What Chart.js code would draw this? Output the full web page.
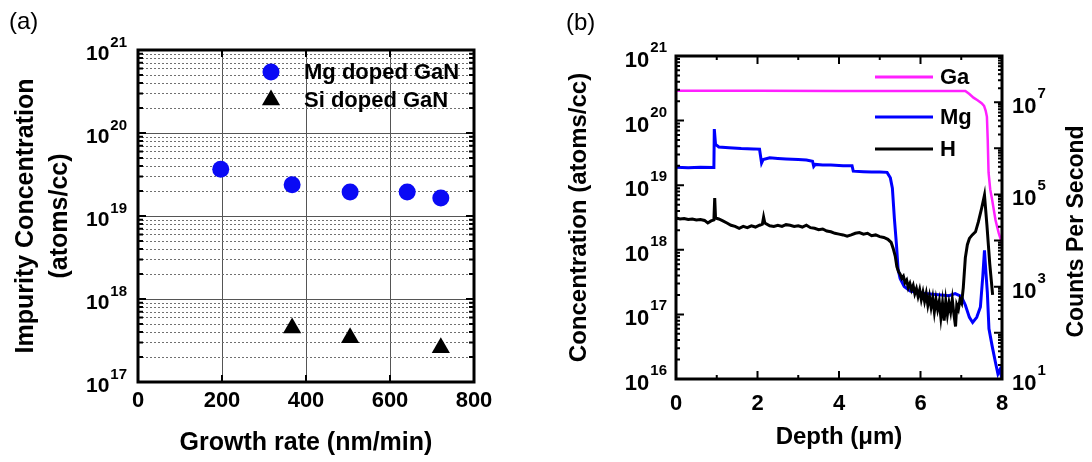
<!DOCTYPE html>
<html>
<head>
<meta charset="utf-8">
<script src="https://cdn.jsdelivr.net/npm/chart.js@4.4.1/dist/chart.umd.min.js"></script>
<style>
  html, body { margin: 0; padding: 0; background: #fff; }
  #wrap { position: relative; width: 1092px; height: 462px; }
  .panel { position: absolute; top: 0; width: 546px; height: 462px; }
  #panelA { left: 0; }
  #panelB { left: 546px; }
</style>
</head>
<body>
<div id="wrap">
  <div class="panel" id="panelA"><canvas id="chartA"></canvas></div>
  <div class="panel" id="panelB"><canvas id="chartB"></canvas></div>
</div>
<script>
const FONT = "'Liberation Sans', Arial, Helvetica, sans-serif";

// ---- panel (a): impurity vs growth rate
const mgRate = [197, 367, 505, 641, 721];
const mgConc = [3.66e19, 2.38e19, 1.95e19, 1.95e19, 1.65e19];
const siRate = [367, 505, 721];
const siConc = [4.47e17, 3.41e17, 2.58e17];
const rateTicks = [0, 200, 400, 600, 800];
const decadesA = [17, 18, 19, 20, 21];

// ---- panel (b): SIMS depth profile
const mgDepth = [0, 0.3, 0.6, 0.93, 0.94, 0.97, 1.05, 1.3, 1.6, 1.9, 2.05, 2.1, 2.14, 2.3, 2.5, 2.7, 3.0, 3.2, 3.35,
  3.38, 3.42, 3.6, 3.8, 4.1, 4.32, 4.35, 4.6, 4.8, 5.0, 5.18, 5.26, 5.31, 5.36, 5.41, 5.45, 5.5, 5.6, 5.75, 5.9,
  6.1, 6.3, 6.5, 6.7, 6.85, 7.0, 7.1, 7.2, 7.28, 7.38, 7.47, 7.53, 7.57, 7.6, 7.64, 7.68, 7.76, 7.84, 7.9, 7.95, 8.0];
const mgProfile = [1.9e19, 1.87e19, 1.9e19, 1.88e19, 7.4e19, 4.3e19, 3.9e19, 3.8e19, 3.7e19, 3.65e19, 3.6e19, 2.2e19, 2.5e19, 2.65e19, 2.6e19, 2.55e19, 2.5e19, 2.45e19, 2.35e19,
  1.95e19, 2.1e19, 2.05e19, 2.05e19, 2.0e19, 2.0e19, 1.65e19, 1.62e19, 1.6e19, 1.6e19, 1.58e19, 1.3e19, 9e18, 3e18, 1.2e18, 5e17, 3.6e17, 2.7e17, 2.3e17, 2.2e17,
  2.1e17, 2.05e17, 2.0e17, 1.95e17, 2.1e17, 1.9e17, 1.4e17, 9e16, 7.5e16, 9e16, 1.3e17, 4e17, 9.8e17, 5e17, 2.2e17, 6e16, 3.2e16, 1.8e16, 1.2e16, 1.4e16, 1.0e16];

const hDepth = [0, 0.1, 0.2, 0.3, 0.4, 0.5, 0.6, 0.7, 0.78, 0.86, 0.93, 0.95, 0.97, 1.05, 1.15, 1.25, 1.35, 1.45, 1.55, 1.65,
  1.75, 1.85, 1.95, 2.05, 2.12, 2.15, 2.18, 2.3, 2.4, 2.5, 2.6, 2.7, 2.8, 2.9, 3.0, 3.1, 3.2, 3.3, 3.4, 3.5,
  3.6, 3.7, 3.8, 3.9, 4.0, 4.1, 4.2, 4.3, 4.4, 4.5, 4.6, 4.7, 4.8, 4.9, 5.0, 5.1, 5.2, 5.28, 5.33, 5.38,
  5.42, 5.46, 5.5, 5.54, 5.58, 5.62, 5.66, 5.7, 5.74, 5.78, 5.82, 5.86, 5.9, 5.94, 5.98, 6.02, 6.06, 6.1, 6.14, 6.18,
  6.22, 6.26, 6.3, 6.34, 6.38, 6.42, 6.46, 6.5, 6.54, 6.58, 6.62, 6.66, 6.7, 6.74, 6.78, 6.82, 6.86, 6.89, 6.93, 6.97,
  7.01, 7.05, 7.1, 7.15, 7.2, 7.27, 7.35, 7.42, 7.5, 7.57, 7.63, 7.7, 7.77];
const hProfile = [3.1e18, 3.0e18, 3.05e18, 2.95e18, 3.0e18, 2.9e18, 2.95e18, 2.85e18, 2.6e18, 2.8e18, 2.9e18, 6.3e18, 3.1e18, 3.0e18, 2.8e18, 2.6e18, 2.4e18, 2.3e18, 2.15e18, 2.3e18,
  2.2e18, 2.35e18, 2.25e18, 2.4e18, 2.5e18, 3.2e18, 2.6e18, 2.35e18, 2.3e18, 2.4e18, 2.3e18, 2.45e18, 2.4e18, 2.3e18, 2.35e18, 2.25e18, 2.4e18, 2.2e18, 2.15e18, 2.05e18,
  2.1e18, 1.95e18, 1.9e18, 1.8e18, 1.75e18, 1.7e18, 1.62e18, 1.7e18, 1.8e18, 1.85e18, 1.75e18, 1.8e18, 1.65e18, 1.7e18, 1.6e18, 1.55e18, 1.45e18, 1.3e18, 1.05e18, 8e17,
  5.5e17, 4.6e17, 4.2e17, 3.6e17, 3.9e17, 3.1e17, 3.4e17, 2.6e17, 3.0e17, 2.4e17, 2.8e17, 2.1e17, 2.5e17, 1.9e17, 2.4e17, 1.7e17, 2.2e17, 1.6e17, 2.1e17, 1.4e17,
  1.9e17, 1.3e17, 1.8e17, 1.1e17, 1.7e17, 1.2e17, 1.6e17, 9e16, 1.5e17, 8e16, 1.6e17, 1.0e17, 1.5e17, 1.1e17, 1.7e17, 1.0e17, 6.5e16, 1.4e17, 1.2e17, 1.7e17,
  1.5e17, 2.6e17, 7.5e17, 1.2e18, 1.5e18, 1.7e18, 1.9e18, 2.7e18, 4.4e18, 7.0e18, 2.4e18, 6.0e17, 2.0e17];

const gaDepth = [0, 2, 4, 6, 7.1, 7.2, 7.3, 7.4, 7.5, 7.56, 7.6, 7.63, 7.65, 7.67, 7.71, 7.76, 7.84, 7.92, 8.0];
const gaCounts = [1.77e7, 1.76e7, 1.75e7, 1.75e7, 1.74e7, 1.5e7, 1.25e7, 1.1e7, 9.5e6, 8.3e6, 6.5e6, 4.8e6, 1.5e6, 3e5, 1.3e5, 7.5e4, 2.8e4, 1.45e4, 8.7e3];

const depthTicks = [0, 2, 4, 6, 8];
const depthMinor = [1, 3, 5, 7];
const decadesB = [16, 17, 18, 19, 20, 21];
const countDecades = [1, 2, 3, 4, 5, 6, 7, 8];
const countLabels = [1, 3, 5, 7];

const pts = (xs, ys) => xs.map((x, i) => ({ x, y: ys[i] }));

function drawPower(ctx, exp, x, y, side, sz) {
  ctx.save();
  ctx.fillStyle = '#000';
  ctx.textBaseline = 'alphabetic';
  ctx.textAlign = 'left';
  const baseFont = `bold ${sz.base}px ${FONT}`;
  const expFont = `bold ${sz.exp}px ${FONT}`;
  ctx.font = expFont;
  const ew = ctx.measureText(String(exp)).width;
  ctx.font = baseFont;
  const bw = ctx.measureText('10').width;
  const x0 = side === 'left' ? x - ew - bw - 1 : x;
  ctx.fillText('10', x0, y + sz.dy);
  ctx.font = expFont;
  ctx.fillText(String(exp), x0 + bw + 1, y + sz.edy);
  ctx.restore();
}

function frame(ctx, a) {
  ctx.save();
  ctx.strokeStyle = '#000';
  ctx.lineWidth = 3;
  ctx.strokeRect(a.left, a.top, a.right - a.left, a.bottom - a.top);
  ctx.restore();
}

// ---------- chart (a)
const panelAPlugin = {
  id: 'panelA',
  beforeDatasetsDraw(chart) {
    const { ctx, chartArea: a, scales: { y } } = chart;
    ctx.save();
    ctx.strokeStyle = '#707070';
    ctx.lineWidth = 1;
    ctx.setLineDash([2, 2]);
    ctx.beginPath();
    decadesA.slice(0, -1).forEach(e => {
      for (let m = 2; m <= 9; m++) {
        const py = Math.round(y.getPixelForValue(m * Math.pow(10, e))) + 0.5;
        ctx.moveTo(a.left, py);
        ctx.lineTo(a.right, py);
      }
    });
    ctx.stroke();
    ctx.restore();
  },
  afterDraw(chart) {
    const { ctx, chartArea: a, scales: { x, y } } = chart;
    frame(ctx, a);
    ctx.save();
    ctx.strokeStyle = '#000';
    ctx.lineWidth = 2;
    ctx.beginPath();
    decadesA.forEach(e => {
      const py = y.getPixelForValue(Math.pow(10, e));
      ctx.moveTo(a.left, py); ctx.lineTo(a.left + 8, py);
      ctx.moveTo(a.right, py); ctx.lineTo(a.right - 8, py);
      if (e < 21) {
        for (let m = 2; m <= 9; m++) {
          const pm = y.getPixelForValue(m * Math.pow(10, e));
          ctx.moveTo(a.left, pm); ctx.lineTo(a.left + 5, pm);
          ctx.moveTo(a.right, pm); ctx.lineTo(a.right - 5, pm);
        }
      }
    });
    rateTicks.slice(1, -1).forEach(v => {
      const px = x.getPixelForValue(v);
      ctx.moveTo(px, a.top); ctx.lineTo(px, a.top + 7);
      ctx.moveTo(px, a.bottom); ctx.lineTo(px, a.bottom - 7);
    });
    ctx.stroke();
    ctx.restore();

    decadesA.forEach(e => drawPower(ctx, e, a.left - 11, y.getPixelForValue(Math.pow(10, e)), 'left',
      { base: 21, exp: 15, dy: 10, edy: -3 }));

    // legend
    ctx.save();
    const lx = a.left + 133;
    const ly1 = a.top + 22, ly2 = a.top + 50;
    ctx.fillStyle = chart.data.datasets[0].backgroundColor;
    ctx.beginPath();
    ctx.arc(lx, ly1, 8.5, 0, Math.PI * 2);
    ctx.fill();
    ctx.fillStyle = chart.data.datasets[1].backgroundColor;
    const r = 10.5;
    ctx.beginPath();
    ctx.moveTo(lx, ly2 - r);
    ctx.lineTo(lx + r * Math.sin(2 * Math.PI / 3), ly2 + r / 2);
    ctx.lineTo(lx - r * Math.sin(2 * Math.PI / 3), ly2 + r / 2);
    ctx.closePath();
    ctx.fill();
    ctx.fillStyle = '#000';
    ctx.font = `bold 22px ${FONT}`;
    ctx.textBaseline = 'middle';
    ctx.fillText(chart.data.datasets[0].label, a.left + 166, ly1 + 1);
    ctx.fillText(chart.data.datasets[1].label, a.left + 166, ly2 + 1);

    ctx.font = `24px ${FONT}`;
    ctx.fillText('(a)', 9, 22);
    ctx.restore();
  }
};

new Chart(document.getElementById('chartA'), {
  type: 'scatter',
  data: {
    datasets: [
      { label: 'Mg doped GaN', data: pts(mgRate, mgConc), pointStyle: 'circle', pointRadius: 8.5,
        backgroundColor: '#0a0af5', borderColor: '#0a0af5', borderWidth: 0 },
      { label: 'Si doped GaN', data: pts(siRate, siConc), pointStyle: 'triangle', pointRadius: 10.5,
        backgroundColor: '#000000', borderColor: '#000000', borderWidth: 0 }
    ]
  },
  options: {
    responsive: true,
    maintainAspectRatio: false,
    animation: false,
    layout: { padding: { left: 0, right: 72, top: 50, bottom: 0 } },
    plugins: { legend: { display: false }, tooltip: { enabled: false } },
    scales: {
      x: {
        type: 'linear', min: 0, max: 800,
        afterBuildTicks: s => { s.ticks = rateTicks.map(v => ({ value: v })); },
        afterFit: s => { s.height = 80; },
        ticks: { color: '#000', padding: 6, font: { family: FONT, size: 22, weight: 'bold' } },
        grid: { color: '#555', lineWidth: 1, drawTicks: false },
        border: { display: false },
        title: { display: true, text: 'Growth rate (nm/min)', color: '#000',
          font: { family: FONT, size: 25, weight: 'bold' }, padding: { top: 0, bottom: 4 } }
      },
      y: {
        type: 'logarithmic', min: 1e17, max: 1e21,
        afterBuildTicks: s => { s.ticks = decadesA.map(e => ({ value: Math.pow(10, e) })); },
        afterFit: s => { s.width = 138; },
        ticks: { display: false },
        grid: { color: '#555', lineWidth: 1, drawTicks: false },
        border: { display: false },
        title: { display: true, text: ['Impurity Concentration', '(atoms/cc)'], color: '#000',
          font: { family: FONT, size: 25, weight: 'bold', lineHeight: 1.35 }, padding: { top: 9, bottom: 0 } }
      }
    }
  },
  plugins: [panelAPlugin]
});

// ---------- chart (b)
const panelBPlugin = {
  id: 'panelB',
  afterDraw(chart) {
    const { ctx, chartArea: a, scales: { x, y, y1 } } = chart;
    frame(ctx, a);
    ctx.save();
    ctx.strokeStyle = '#000';
    ctx.lineWidth = 2;
    ctx.beginPath();
    decadesB.forEach(e => {
      const py = y.getPixelForValue(Math.pow(10, e));
      ctx.moveTo(a.left, py); ctx.lineTo(a.left + 8, py);
      if (e < 21) {
        for (let m = 2; m <= 9; m++) {
          const pm = y.getPixelForValue(m * Math.pow(10, e));
          ctx.moveTo(a.left, pm); ctx.lineTo(a.left + 4, pm);
        }
      }
    });
    countDecades.forEach(e => {
      const py = y1.getPixelForValue(Math.pow(10, e));
      ctx.moveTo(a.right, py); ctx.lineTo(a.right - 8, py);
      if (e < 8) {
        for (let m = 2; m <= 9; m++) {
          const pm = y1.getPixelForValue(m * Math.pow(10, e));
          ctx.moveTo(a.right, pm); ctx.lineTo(a.right - 4, pm);
        }
      }
    });
    depthTicks.forEach(v => {
      const px = x.getPixelForValue(v);
      ctx.moveTo(px, a.top); ctx.lineTo(px, a.top + 8);
      ctx.moveTo(px, a.bottom); ctx.lineTo(px, a.bottom - 8);
    });
    depthMinor.forEach(v => {
      const px = x.getPixelForValue(v);
      ctx.moveTo(px, a.top); ctx.lineTo(px, a.top + 4);
      ctx.moveTo(px, a.bottom); ctx.lineTo(px, a.bottom - 4);
    });
    ctx.stroke();
    ctx.restore();

    decadesB.forEach(e => drawPower(ctx, e, a.left - 9, y.getPixelForValue(Math.pow(10, e)), 'left',
      { base: 22, exp: 15, dy: 11, edy: -4 }));
    countLabels.forEach(e => drawPower(ctx, e, a.right + 10, y1.getPixelForValue(Math.pow(10, e)), 'right',
      { base: 22, exp: 15, dy: 11, edy: -4 }));

    // legend
    ctx.save();
    const rows = [a.top + 21, a.top + 61, a.top + 93];
    const order = [2, 0, 1];
    ctx.font = `bold 22px ${FONT}`;
    ctx.textBaseline = 'middle';
    order.forEach((di, k) => {
      const ds = chart.data.datasets[di];
      ctx.strokeStyle = ds.borderColor;
      ctx.lineWidth = 3;
      ctx.beginPath();
      ctx.moveTo(a.left + 199, rows[k]);
      ctx.lineTo(a.left + 257, rows[k]);
      ctx.stroke();
      ctx.fillStyle = '#000';
      ctx.fillText(ds.label, a.left + 264, rows[k] + 1);
    });

    // right axis title, reading bottom to top
    ctx.translate(531, (a.top + a.bottom) / 2 + 14);
    ctx.rotate(-Math.PI / 2);
    ctx.textAlign = 'center';
    ctx.font = `bold 23px ${FONT}`;
    ctx.fillText('Counts Per Second', 0, 0);
    ctx.restore();

    ctx.save();
    ctx.fillStyle = '#000';
    ctx.font = `24px ${FONT}`;
    ctx.textBaseline = 'middle';
    ctx.fillText('(b)', 20, 23);
    ctx.restore();
  }
};

new Chart(document.getElementById('chartB'), {
  type: 'scatter',
  data: {
    datasets: [
      { label: 'Mg', data: pts(mgDepth, mgProfile), yAxisID: 'y', showLine: true, pointRadius: 0,
        borderColor: '#0000ff', borderWidth: 3, order: 1 },
      { label: 'H', data: pts(hDepth, hProfile), yAxisID: 'y', showLine: true, pointRadius: 0,
        borderColor: '#000000', borderWidth: 3, order: 0 },
      { label: 'Ga', data: pts(gaDepth, gaCounts), yAxisID: 'y1', showLine: true, pointRadius: 0,
        borderColor: '#ff20ff', borderWidth: 2.5, order: 2 }
    ]
  },
  options: {
    responsive: true,
    maintainAspectRatio: false,
    animation: false,
    layout: { padding: { left: 0, right: 0, top: 56, bottom: 0 } },
    plugins: { legend: { display: false }, tooltip: { enabled: false } },
    scales: {
      x: {
        type: 'linear', min: 0, max: 8,
        afterBuildTicks: s => { s.ticks = depthTicks.map(v => ({ value: v })); },
        afterFit: s => { s.height = 83; },
        ticks: { color: '#000', padding: 4, font: { family: FONT, size: 22, weight: 'bold' } },
        grid: { display: false },
        border: { display: false },
        title: { display: true, text: 'Depth (\u03bcm)', color: '#000',
          font: { family: FONT, size: 24, weight: 'bold' }, padding: { top: 0, bottom: 10 } }
      },
      y: {
        type: 'logarithmic', position: 'left', min: 1e16, max: 1e21,
        afterBuildTicks: s => { s.ticks = decadesB.map(e => ({ value: Math.pow(10, e) })); },
        afterFit: s => { s.width = 130; },
        ticks: { display: false },
        grid: { display: false },
        border: { display: false },
        title: { display: true, text: 'Concentration (atoms/cc)', color: '#000',
          font: { family: FONT, size: 24, weight: 'bold' }, padding: { top: 19, bottom: 0 } }
      },
      y1: {
        type: 'logarithmic', position: 'right', min: 10, max: 1e8,
        afterBuildTicks: s => { s.ticks = countDecades.map(e => ({ value: Math.pow(10, e) })); },
        afterFit: s => { s.width = 90; },
        ticks: { display: false },
        grid: { display: false },
        border: { display: false }
      }
    }
  },
  plugins: [panelBPlugin]
});
</script>
</body>
</html>
